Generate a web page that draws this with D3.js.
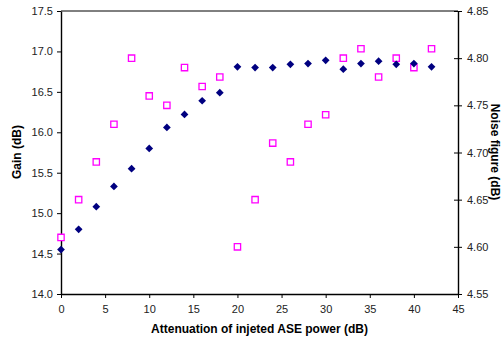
<!DOCTYPE html>
<html>
<head>
<meta charset="utf-8">
<script src="https://cdn.jsdelivr.net/npm/d3@7"></script>
<style>
  body { margin: 0; background: #fff; }
  svg text { font-family: "Liberation Sans", Arial, sans-serif; }
</style>
</head>
<body>
<div id="chart"></div>
<script>
// attenuation (dB)
const atten = [0, 2, 4, 6, 8, 10, 12, 14, 16, 18, 20, 22, 24, 26, 28, 30, 32, 34, 36, 38, 40, 42]
// gain (dB), left axis
const gain = [14.55, 14.8, 15.08, 15.33, 15.55, 15.8, 16.06, 16.22, 16.39, 16.49, 16.81, 16.8,
  16.8, 16.84, 16.85, 16.89, 16.78, 16.85, 16.88, 16.84, 16.85, 16.81]
// noise figure (dB), right axis
const noise = [4.61, 4.65, 4.69, 4.73, 4.80, 4.76, 4.75, 4.79, 4.77, 4.78, 4.60, 4.65,
  4.71, 4.69, 4.73, 4.74, 4.80, 4.81, 4.78, 4.80, 4.79, 4.81]

const xTicks = [0, 5, 10, 15, 20, 25, 30, 35, 40, 45]
const gainTicks = [14.0, 14.5, 15.0, 15.5, 16.0, 16.5, 17.0, 17.5]
const noiseTicks = [4.55, 4.60, 4.65, 4.70, 4.75, 4.80, 4.85]

const W = 503, H = 343
const m = { left: 61, right: 45, top: 11, bottom: 49 }

const svg = d3.select("#chart").append("svg")
  .attr("width", W).attr("height", H)

const x = d3.scaleLinear().domain([0, 45]).range([m.left, W - m.right])
const yG = d3.scaleLinear().domain([14, 17.5]).range([H - m.bottom, m.top])
const yN = d3.scaleLinear().domain([4.55, 4.85]).range([H - m.bottom, m.top])

// frame: top line
svg.append("line")
  .attr("x1", x(0)).attr("x2", x(45))
  .attr("y1", yG(17.5)).attr("y2", yG(17.5))
  .attr("stroke", "#000").attr("stroke-width", 1)

const styleAxis = (g) => {
  g.select(".domain").attr("stroke", "#000").attr("stroke-width", 1.4)
  g.selectAll(".tick line").attr("stroke", "#000")
  g.selectAll(".tick text").attr("fill", "#222").attr("font-size", 11)
}

svg.append("g")
  .attr("transform", `translate(0,${H - m.bottom})`)
  .call(d3.axisBottom(x).tickValues(xTicks).tickSize(4).tickSizeOuter(0).tickPadding(7))
  .call(styleAxis)

svg.append("g")
  .attr("transform", `translate(${m.left},0)`)
  .call(d3.axisLeft(yG).tickValues(gainTicks).tickFormat(d3.format(".1f")).tickSize(4).tickSizeOuter(0).tickPadding(4))
  .call(styleAxis)

const right = svg.append("g")
  .attr("transform", `translate(${W - m.right},0)`)
  .call(d3.axisRight(yN).tickValues(noiseTicks).tickFormat(d3.format(".2f")).tickSize(4).tickSizeOuter(0).tickPadding(5))
  .call(styleAxis)
right.selectAll(".tick line").attr("x1", -4)

// markers
svg.append("g").selectAll("path")
  .data(atten.map((a, i) => [a, noise[i]]))
  .join("path")
  .attr("d", d3.symbol(d3.symbolSquare, 40))
  .attr("transform", d => `translate(${x(d[0])},${yN(d[1])})`)
  .attr("fill", "#fff").attr("stroke", "#ff00ff").attr("stroke-width", 1.3)

// diamonds: squares turned by 45 degrees
svg.append("g").selectAll("path")
  .data(atten.map((a, i) => [a, gain[i]]))
  .join("path")
  .attr("d", d3.symbol(d3.symbolSquare, 30))
  .attr("transform", d => `translate(${x(d[0])},${yG(d[1])}) rotate(45)`)
  .attr("fill", "#000080")

// titles
svg.append("text")
  .attr("x", (m.left + W - m.right) / 2).attr("y", 333)
  .attr("text-anchor", "middle").attr("font-size", 12).attr("font-weight", "bold")
  .text("Attenuation of injeted ASE power (dB)")

svg.append("text")
  .attr("transform", `translate(21,152) rotate(-90)`)
  .attr("text-anchor", "middle").attr("font-size", 12).attr("font-weight", "bold")
  .text("Gain (dB)")

svg.append("text")
  .attr("transform", `translate(491,152) rotate(90)`)
  .attr("text-anchor", "middle").attr("font-size", 12).attr("font-weight", "bold")
  .text("Noise figure (dB)")
</script>
</body>
</html>
